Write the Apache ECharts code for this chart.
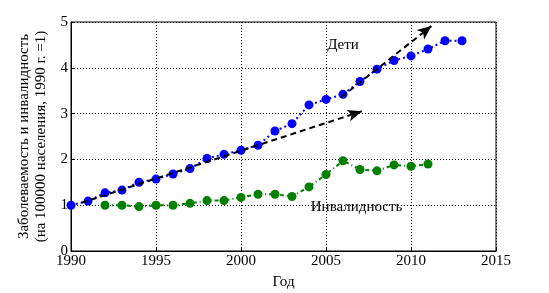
<!DOCTYPE html>
<html><head><meta charset="utf-8">
<script src="https://cdn.jsdelivr.net/npm/echarts@6/dist/echarts.min.js"></script>
<style>html,body{margin:0;padding:0;background:#fff}#c{width:549px;height:293px}</style>
</head><body><div id="c"></div>
<script>
var childYears = [1990,1991,1992,1993,1994,1995,1996,1997,1998,1999,2000,2001,2002,2003,2004,2005,2006,2007,2008,2009,2010,2011,2012,2013];
var childValues = [1.0,1.09,1.27,1.33,1.50,1.57,1.68,1.80,2.02,2.11,2.20,2.31,2.62,2.78,3.19,3.31,3.42,3.70,3.97,4.16,4.26,4.41,4.59,4.59];
var disYears = [1992,1993,1994,1995,1996,1997,1998,1999,2000,2001,2002,2003,2004,2005,2006,2007,2008,2009,2010,2011];
var disValues = [1.0,1.0,0.97,1.0,1.0,1.04,1.10,1.10,1.17,1.24,1.24,1.19,1.40,1.67,1.97,1.78,1.75,1.88,1.85,1.90];
var arrowLow = [[1990.6,1.05],[2007.1,3.05]];
var arrowHigh = [[2005.9,3.36],[2011.2,4.91]];
var xTicks = [1990,1995,2000,2005,2010,2015];
var yTicks = [0,1,2,3,4,5];
var labelChildren = {text:'Дети', pos:[2006.0,4.50]};
var labelDis = {text:'Инвалидность', pos:[2006.8,0.96]};

function pairs(xs, ys){ return xs.map(function(x,i){return [x, ys[i]];}); }
var F = 'Liberation Serif, Times New Roman, serif';
var FS = 15;
var chart = echarts.init(document.getElementById('c'));
function arrowLine(p){
  return [{coord:p[0]},{coord:p[1]}];
}
chart.setOption({
  animation:false,
  grid:{left:71,right:53,top:22,bottom:42,show:true,borderColor:'#000',borderWidth:1,containLabel:false,outerBoundsMode:'none'},
  xAxis:{type:'value',min:1990,max:2015,interval:5,
    name:'Год',nameLocation:'middle',nameGap:24,nameTextStyle:{fontFamily:F,fontSize:FS,color:'#000'},
    axisLine:{show:true,lineStyle:{color:'#000'}},
    axisTick:{show:true,inside:true,length:4,lineStyle:{color:'#000'}},
    axisLabel:{fontFamily:F,fontSize:FS,color:'#000',margin:3,formatter:function(v){return xTicks.indexOf(v)>=0?String(v):'';}},
    splitLine:{show:true,lineStyle:{color:'#000',type:[1,2],width:1}}},
  yAxis:{type:'value',min:0,max:5,interval:1,
    name:'Заболеваемость и инвалидность\n(на 100000 населения, 1990 г. =1)',
    nameLocation:'middle',nameGap:19,nameRotate:90,
    nameTextStyle:{fontFamily:F,fontSize:15,color:'#000',lineHeight:17},
    axisLine:{show:true,lineStyle:{color:'#000'}},
    axisTick:{show:true,inside:true,length:4,lineStyle:{color:'#000'}},
    axisLabel:{fontFamily:F,fontSize:FS,color:'#000',margin:3,formatter:function(v){return yTicks.indexOf(v)>=0?String(v):'';}},
    splitLine:{show:true,lineStyle:{color:'#000',type:[1,2],width:1}}},
  series:[
    {type:'line',data:pairs(disYears,disValues),symbol:'circle',symbolSize:9,
      itemStyle:{color:'#008000'},lineStyle:{color:'#008000',width:2,type:[4,3,1,3]},z:3,
      markPoint:{symbol:'circle',symbolSize:0,silent:true,
        label:{show:true,formatter:labelDis.text,fontFamily:F,fontSize:FS,color:'#000',position:'inside'},
        data:[{coord:labelDis.pos}]}},
    {type:'line',data:pairs(childYears,childValues),symbol:'circle',symbolSize:9,
      itemStyle:{color:'#0000ff'},lineStyle:{color:'#0000ff',width:2,type:[2,3]},z:4,
      markPoint:{symbol:'circle',symbolSize:0,silent:true,
        label:{show:true,formatter:labelChildren.text,fontFamily:F,fontSize:FS,color:'#000',position:'inside'},
        data:[{coord:labelChildren.pos}]}},
    {type:'line',data:[],z:5,
      markLine:{silent:true,symbol:['none','arrow'],symbolSize:[9,14],
        lineStyle:{color:'#000',width:2,type:[6,4]},label:{show:false},
        data:[arrowLine(arrowLow),arrowLine(arrowHigh)]}}
  ]
});
</script></body></html>
